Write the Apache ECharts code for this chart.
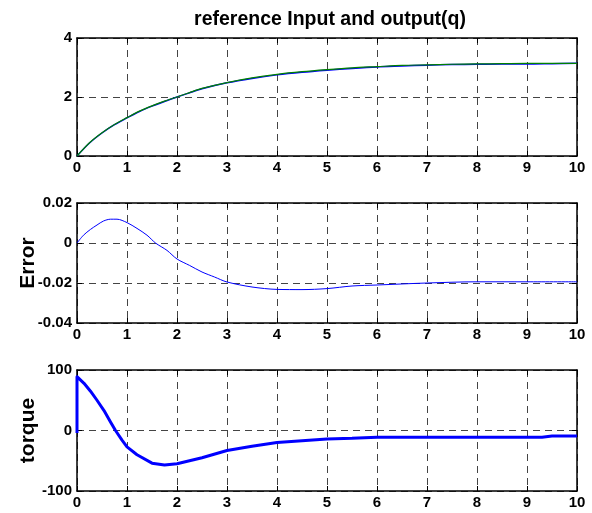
<!DOCTYPE html>
<html><head><meta charset="utf-8">
<script src="https://cdn.jsdelivr.net/npm/echarts@6/dist/echarts.min.js"></script>
<style>html,body{margin:0;padding:0;background:#fff}#c{width:592px;height:513px}</style>
</head><body><div id="c"></div>
<script>
var title = 'reference Input and output(q)';
var xTicks = [0,1,2,3,4,5,6,7,8,9,10];
// Plot 1: reference input and output
var t1 = [0,0.25,0.5,0.75,1,1.25,1.5,1.75,2,2.25,2.5,3,3.5,4,4.5,5,5.5,6,6.5,7,7.5,8,8.5,9,9.5,10];
var refIn = [0,0.45,0.79,1.07,1.30,1.52,1.70,1.86,2.0,2.15,2.29,2.49,2.65,2.77,2.86,2.93,2.99,3.03,3.07,3.09,3.11,3.12,3.13,3.14,3.14,3.14];
var outQ  = [0,0.44,0.78,1.06,1.29,1.51,1.69,1.85,2.0,2.14,2.28,2.48,2.63,2.75,2.84,2.91,2.97,3.02,3.05,3.08,3.10,3.11,3.12,3.12,3.13,3.14];
// Plot 2: error
var t2 = [0,0.13,0.27,0.4,0.53,0.67,0.8,1,1.2,1.4,1.57,1.8,2,2.25,2.5,2.75,3,3.5,4,4.5,5,5.5,6,7,8,9,10];
var err = [0,0.0039,0.0068,0.009,0.011,0.0119,0.0119,0.0102,0.0073,0.0039,0,-0.0037,-0.008,-0.0112,-0.0145,-0.017,-0.0195,-0.022,-0.0232,-0.0233,-0.0228,-0.0215,-0.021,-0.020,-0.0194,-0.0194,-0.0194];
// Plot 3: torque
var t3 = [0,0,0.14,0.27,0.4,0.54,0.67,0.77,0.9,1,1.2,1.5,1.75,2,2.5,3,3.5,4,4.5,5,5.5,6,7,8,9,9.3,9.5,10];
var torque = [-4,89,78,65,50,33,14,0,-16,-27,-40,-54,-57,-55,-45,-33,-26,-20,-17,-14,-13,-11,-11,-11,-11,-11,-9,-9];

function pairs(t, v){ return t.map(function(x,i){return [x, v[i]];}); }

var FONT = 'Liberation Sans, Arial, sans-serif';
var grids = [
  {left:77, right:15, top:38, height:118},
  {left:77, right:15, top:203, height:120},
  {left:77, right:15, top:370, height:121}
];
var dash = {show:true, lineStyle:{color:'#444', type:[7,5], width:1}};
var xAxes = [], yAxes = [];
grids.forEach(function(g, i){
  xAxes.push({type:'value', gridIndex:i, min:0, max:10, interval:1, position:'bottom',
    axisLine:{show:true, onZero:false, lineStyle:{color:'#000', width:1.5}},
    axisTick:{show:true, inside:true, length:5, lineStyle:{color:'#000'}},
    axisLabel:{color:'#000', fontFamily:FONT, fontWeight:'bold', fontSize:15, margin:4},
    splitLine:dash});
  xAxes.push({type:'value', gridIndex:i, min:0, max:10, interval:1, position:'top',
    axisLine:{show:true, onZero:false, lineStyle:{color:'#000', width:1.5}},
    axisTick:{show:true, inside:true, length:5, lineStyle:{color:'#000'}},
    axisLabel:{show:false}, splitLine:{show:false}});
});
var yCfg = [
  {min:0, max:4, interval:2, name:''},
  {min:-0.04, max:0.02, interval:0.02, name:'Error'},
  {min:-100, max:100, interval:100, name:'torque'}
];
yCfg.forEach(function(c, i){
  yAxes.push({type:'value', gridIndex:i, min:c.min, max:c.max, interval:c.interval, position:'left',
    name:c.name, nameLocation:'middle', nameRotate:90, nameGap:38, nameMoveOverlap:false,
    nameTextStyle:{color:'#000', fontFamily:FONT, fontWeight:'bold', fontSize:21},
    axisLine:{show:true, onZero:false, lineStyle:{color:'#000', width:1.5}},
    axisTick:{show:true, inside:true, length:5, lineStyle:{color:'#000'}},
    axisLabel:{color:'#000', fontFamily:FONT, fontWeight:'bold', fontSize:15, margin:5,
      formatter:function(v){ if (Math.abs(v) < 1e-9) return '0'; return (i===1? v.toFixed(2) : String(v)); }},
    splitLine:dash});
  yAxes.push({type:'value', gridIndex:i, min:c.min, max:c.max, interval:c.interval, position:'right',
    axisLine:{show:true, onZero:false, lineStyle:{color:'#000', width:1.5}},
    axisTick:{show:true, inside:true, length:5, lineStyle:{color:'#000'}},
    axisLabel:{show:false}, splitLine:{show:false}});
});

var chart = echarts.init(document.getElementById('c'), null, {renderer:'canvas'});
chart.setOption({
  animation:false,
  backgroundColor:'#fff',
  title:{text:title, left:325, textAlign:'center', top:5,
    textStyle:{color:'#000', fontFamily:FONT, fontWeight:'bold', fontSize:19.5}},
  grid:grids,
  xAxis:xAxes,
  yAxis:yAxes,
  series:[
    {type:'line', xAxisIndex:0, yAxisIndex:0, data:pairs(t1,outQ), showSymbol:false, smooth:0.3,
      lineStyle:{color:'#0000ff', width:1.5}},
    {type:'line', xAxisIndex:0, yAxisIndex:0, data:pairs(t1,refIn), showSymbol:false, smooth:0.3,
      lineStyle:{color:'#008000', width:1.2}},
    {type:'line', xAxisIndex:2, yAxisIndex:2, data:pairs(t2,err), showSymbol:false, smooth:0.3,
      lineStyle:{color:'#0000ff', width:1}},
    {type:'line', xAxisIndex:4, yAxisIndex:4, data:pairs(t3,torque), showSymbol:false, smooth:false,
      lineStyle:{color:'#0000ff', width:3, join:'round'}}
  ]
});
</script></body></html>
